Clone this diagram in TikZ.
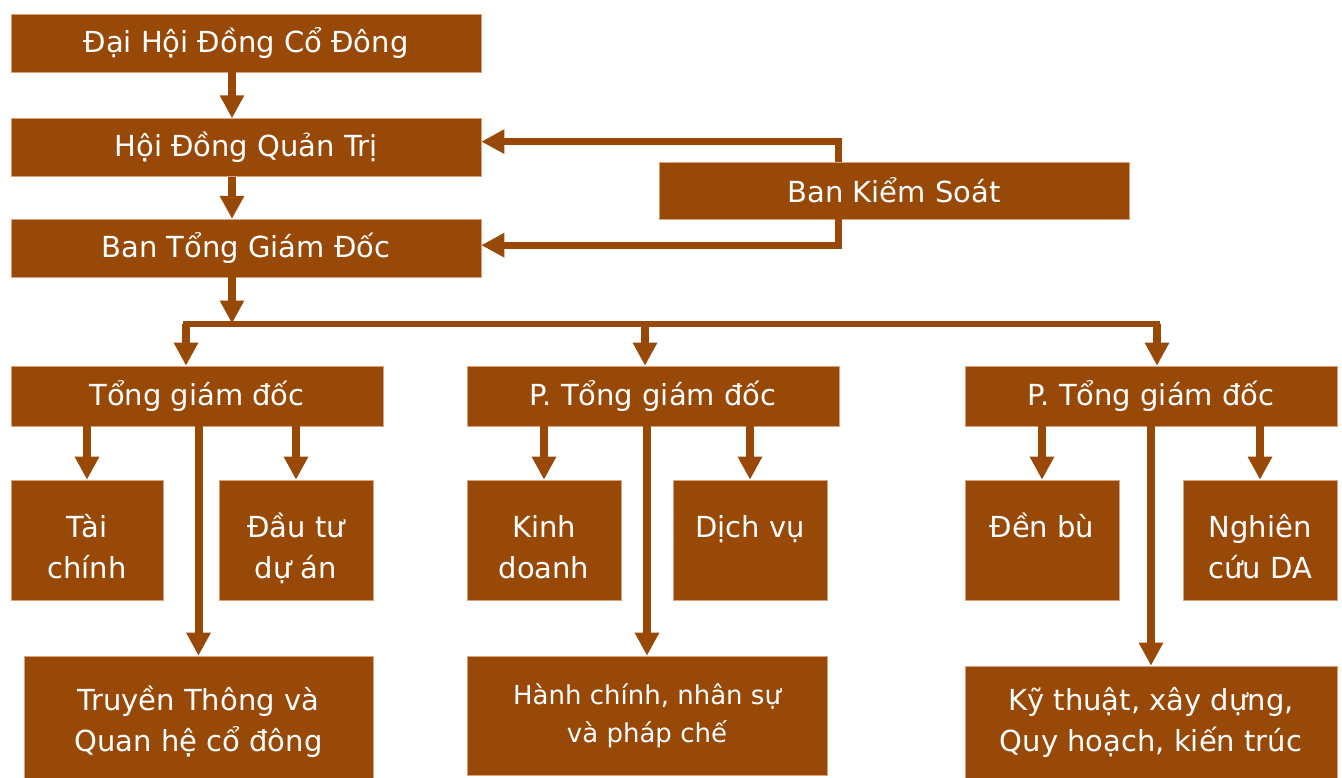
\documentclass[tikz,border=0pt]{standalone}
\usepackage{fontspec}
\setmainfont{DejaVu Sans}
\usepackage{tikz}
\usetikzlibrary{arrows.meta,positioning,calc}
\definecolor{nau}{HTML}{984807}
\definecolor{vien}{HTML}{D9A27C}

\begin{document}
\begin{tikzpicture}[x=1pt,y=-1pt,
  link/.style={draw=nau,line width=8pt,-{Triangle[width=23pt,length=23pt]}},
  wire/.style={draw=nau,line width=6pt,line cap=rect},
  every node/.style={text=white,font=\fontsize{29}{41}\selectfont,align=center,inner sep=0pt}]
  \tikzstyle{box}=[rectangle,fill=nau,draw=vien,line width=0.6pt,minimum width=470pt,minimum height=58pt]
  \tikzstyle{chief}=[box,minimum width=372pt,minimum height=60pt]
  \tikzstyle{dept}=[box,minimum width=154pt,minimum height=120pt,text height=96pt,text depth=20pt]
  \useasboundingbox (0,0) rectangle (1342,778);
  % board levels
  \node[box] (dh) at (246,43) {Đại Hội Đồng Cổ Đông};
  \node[box,below=46pt of dh] (hdqt) {Hội Đồng Quản Trị};
  \node[box,below=42pt of hdqt] (btgd) {Ban Tổng Giám Đốc};
  \node[box,minimum height=57pt] (bks) at (894,190.5) {Ban Kiểm Soát};
  % directors
  \node[chief] (tgd) at (197,396) {Tổng giám đốc};
  \node[chief] (ptgd1) at (653,396) {P. Tổng giám đốc};
  \node[chief] (ptgd2) at (1151,396) {P. Tổng giám đốc};
  % departments
  \node[dept,minimum width=152pt] (tc) at (87,540) {Tài\\chính};
  \node[dept] (dt) at (296,540) {Đầu tư\\dự án};
  \node[dept] (kd) at (544,540) {Kinh\\doanh};
  \node[dept] (dv) at (750,540) {Dịch vụ\\\mbox{}};
  \node[dept] (db) at (1042,540) {Đền bù\\\mbox{}};
  \node[dept] (nc) at (1260,540) {Nghiên\\cứu DA};
  \node[box,minimum width=349pt,minimum height=132pt] (tt) at (198.5,722) {Truyền Thông và\\Quan hệ cổ đông};
  \node[box,minimum width=360pt,minimum height=119pt,font=\fontsize{26}{38}\selectfont] (hc) at (647,715.5) {Hành chính, nhân sự\\và pháp chế};
  \node[box,minimum width=372pt,minimum height=112pt] (kt) at (1151,722) {Kỹ thuật, xây dựng,\\Quy hoạch, kiến trúc};

  \coordinate (spine) at (232,0);
  \coordinate (bus) at (232,323.5);
  \coordinate (b1) at (186,323.5);
  \coordinate (b2) at (645,323.5);
  \coordinate (b3) at (1157,323.5);
  \draw[link] (dh.south -| spine) -- (hdqt.north -| spine);
  \draw[link] (hdqt.south -| spine) -- (btgd.north -| spine);
  \draw[link,line width=7pt] ([xshift=-56pt]bks.north) |- ([yshift=6pt]hdqt.east);
  \draw[link,line width=7pt] ([xshift=-56pt]bks.south) |- ([yshift=3pt]btgd.east);
  \draw[wire] (b1) -- (b3);
  \draw[link] (btgd.south -| bus) -- (bus);
  \draw[link] (b1) -- (b1 |- tgd.north);
  \draw[link] (b2) -- (b2 |- ptgd1.north);
  \draw[link] (b3) -- (b3 |- ptgd2.north);
  % director to department
  \draw[link] (tc.north |- tgd.south) -- (tc.north);
  \draw[link] (dt.north |- tgd.south) -- (dt.north);
  \draw[link] (tt.north |- tgd.south) -- (tt.north);
  \draw[link] (kd.north |- ptgd1.south) -- (kd.north);
  \draw[link] (dv.north |- ptgd1.south) -- (dv.north);
  \draw[link] (hc.north |- ptgd1.south) -- (hc.north);
  \draw[link] (db.north |- ptgd2.south) -- (db.north);
  \draw[link] (nc.north |- ptgd2.south) -- (nc.north);
  \draw[link] (kt.north |- ptgd2.south) -- (kt.north);
\end{tikzpicture}
\end{document}
